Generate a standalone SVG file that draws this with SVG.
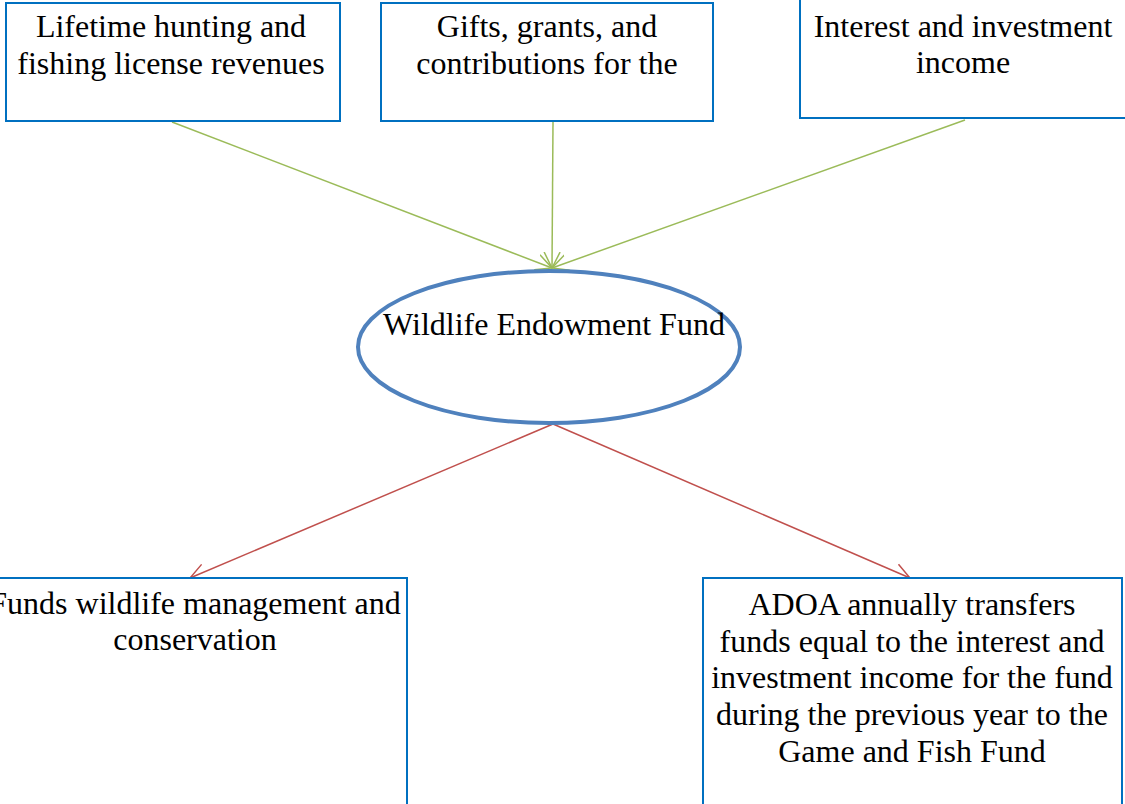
<svg xmlns="http://www.w3.org/2000/svg" width="1125" height="804" viewBox="0 0 1125 804">
<style>
.box{fill:#fff;stroke:#0070C0;stroke-width:2}
.t{font-family:"Liberation Serif","Times New Roman",serif;font-size:32px;fill:#000;text-anchor:middle}
.g{stroke:#9BBB59;stroke-width:1.5;fill:none}
.r{stroke:#C0504D;stroke-width:1.5;fill:none}
</style>
<defs>
<marker id="ag" markerUnits="userSpaceOnUse" markerWidth="20" markerHeight="20" refX="16" refY="8" orient="auto" viewBox="0 0 20 16">
<path d="M0,0 L16,8 L0,16" fill="none" stroke="#9BBB59" stroke-width="1.5"/>
</marker>
<marker id="ar" markerUnits="userSpaceOnUse" markerWidth="20" markerHeight="20" refX="16" refY="8" orient="auto" viewBox="0 0 20 16">
<path d="M0,0 L16,8 L0,16" fill="none" stroke="#C0504D" stroke-width="1.5"/>
</marker>
</defs>
<rect width="1125" height="804" fill="#fff"/>
<g id="connectors">
<line class="g" x1="172" y1="122" x2="552" y2="268" marker-end="url(#ag)"/>
<line class="g" x1="553" y1="122" x2="552" y2="268" marker-end="url(#ag)"/>
<line class="g" x1="965" y1="120" x2="552" y2="268" marker-end="url(#ag)"/>
<line class="r" x1="553" y1="424" x2="190" y2="578" marker-end="url(#ar)"/>
<line class="r" x1="553" y1="424" x2="910" y2="578" marker-end="url(#ar)"/>
</g>
<g id="n1">
<rect class="box" x="6" y="3" width="334" height="118"/>
<text class="t" x="171" y="37">Lifetime hunting and</text>
<text class="t" x="171" y="74">fishing license revenues</text>
</g>
<g id="n2">
<rect class="box" x="381" y="3" width="332" height="118"/>
<text class="t" x="547" y="37">Gifts, grants, and</text>
<text class="t" x="547" y="74">contributions for the</text>
</g>
<g id="n3">
<rect class="box" x="800" y="-1" width="330" height="119"/>
<text class="t" x="963" y="37">Interest and investment</text>
<text class="t" x="963" y="73">income</text>
</g>
<g id="n4">
<ellipse cx="549" cy="347" rx="191" ry="76" fill="none" stroke="#4F81BD" stroke-width="4"/>
<text class="t" x="554" y="335">Wildlife Endowment Fund</text>
</g>
<g id="n5">
<rect class="box" x="-20" y="578" width="427" height="250"/>
<text class="t" x="195" y="614">Funds wildlife management and</text>
<text class="t" x="195" y="650">conservation</text>
</g>
<g id="n6">
<rect class="box" x="703" y="578" width="419" height="250"/>
<text class="t" x="912" y="615">ADOA annually transfers</text>
<text class="t" x="912" y="652">funds equal to the interest and</text>
<text class="t" x="912" y="688">investment income for the fund</text>
<text class="t" x="912" y="725">during the previous year to the</text>
<text class="t" x="912" y="762">Game and Fish Fund</text>
</g>
</svg>
